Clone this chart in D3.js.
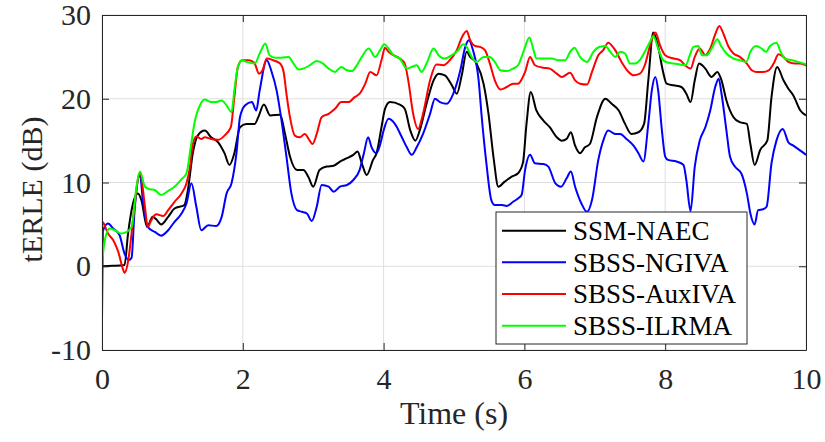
<!DOCTYPE html>
<html><head><meta charset="utf-8">
<script src="https://cdn.jsdelivr.net/npm/d3@7"></script>
<style>
html,body{margin:0;padding:0;background:#fff;}
svg{display:block;}
</style></head>
<body>
<svg id="chart" width="825" height="442" font-family="'Liberation Serif', 'Times New Roman', serif"></svg>
<script>
// ---- data ----
const xTicks = [0, 2, 4, 6, 8, 10];
const yTicks = [-10, 0, 10, 20, 30];
const seriesNames = ["SSM-NAEC", "SBSS-NGIVA", "SBSS-AuxIVA", "SBSS-ILRMA"];
const seriesColors = ["#000000", "#0000ff", "#ff0000", "#00ff00"];

const ssmNaec = [[0,0.0],[0.15,0.05],[0.32,0.15],[0.37,3.9],[0.44,7.5],[0.51,8.7],[0.56,7.9],[0.64,4.7],[0.72,5.9],[0.77,5.6],[0.84,5.0],[0.94,5.9],[1.03,6.9],[1.17,7.3],[1.22,9.1],[1.29,13.5],[1.36,15.6],[1.46,16.2],[1.55,15.4],[1.65,14.8],[1.74,13.5],[1.81,12.1],[1.88,13.5],[1.96,16.6],[2.05,17.0],[2.17,17.0],[2.22,17.8],[2.30,19.3],[2.39,18.0],[2.53,18.1],[2.60,15.8],[2.67,13.1],[2.77,11.5],[2.86,11.5],[2.93,10.7],[3.0,9.5],[3.09,11.5],[3.19,11.9],[3.29,12.0],[3.38,12.5],[3.48,12.9],[3.57,13.3],[3.63,13.7],[3.69,12.3],[3.76,10.9],[3.85,12.7],[3.90,13.5],[3.97,16.6],[4.02,18.8],[4.09,19.6],[4.23,19.3],[4.30,18.8],[4.38,16.2],[4.45,15.0],[4.52,16.4],[4.61,19.4],[4.71,22.2],[4.78,23.0],[4.87,22.8],[4.97,21.6],[5.04,20.6],[5.11,22.8],[5.18,25.6],[5.23,25.0],[5.32,24.2],[5.42,21.8],[5.49,18.2],[5.56,13.1],[5.63,9.5],[5.72,10.1],[5.82,10.7],[5.91,11.1],[5.98,12.4],[6.03,17.0],[6.09,20.8],[6.17,18.6],[6.27,17.4],[6.36,16.6],[6.46,15.4],[6.53,15.0],[6.60,15.2],[6.66,16.0],[6.72,14.4],[6.79,13.5],[6.86,14.2],[6.93,14.6],[7.03,17.8],[7.15,20.0],[7.24,19.4],[7.34,18.6],[7.43,17.0],[7.52,15.8],[7.62,16.0],[7.70,17.0],[7.76,22.2],[7.83,27.9],[7.90,26.2],[7.97,23.2],[8.02,21.8],[8.12,21.6],[8.23,21.4],[8.30,20.6],[8.36,19.6],[8.42,22.2],[8.48,24.2],[8.57,23.6],[8.66,22.6],[8.74,23.2],[8.80,22.2],[8.87,19.8],[8.97,17.8],[9.06,17.2],[9.16,17.0],[9.21,14.6],[9.27,12.1],[9.35,13.9],[9.45,15.0],[9.51,20.2],[9.59,23.8],[9.68,22.2],[9.75,21.2],[9.82,20.4],[9.92,18.6],[10.0,18.0]];

const sbssNgiva = [[0,-6.5],[0.012,4.2],[0.085,5.1],[0.16,4.5],[0.25,3.7],[0.32,1.5],[0.38,0.75],[0.42,1.0],[0.46,6.3],[0.54,10.9],[0.58,7.9],[0.65,4.7],[0.75,4.1],[0.84,3.65],[0.94,4.3],[1.03,5.3],[1.13,6.3],[1.20,7.5],[1.27,9.9],[1.34,7.1],[1.41,4.3],[1.51,4.9],[1.62,4.8],[1.70,5.9],[1.77,8.7],[1.84,9.9],[1.91,13.5],[1.96,17.8],[2.03,19.2],[2.13,19.6],[2.19,18.6],[2.24,21.0],[2.34,24.6],[2.41,23.2],[2.48,21.0],[2.55,17.4],[2.62,13.1],[2.69,8.7],[2.77,6.7],[2.84,6.5],[2.91,6.3],[2.98,5.4],[3.05,7.1],[3.12,9.7],[3.22,9.5],[3.29,8.9],[3.38,9.5],[3.48,9.7],[3.57,10.3],[3.66,11.5],[3.72,13.5],[3.78,15.4],[3.83,14.2],[3.90,13.5],[3.95,14.5],[4.0,16.2],[4.07,17.6],[4.16,17.0],[4.26,15.4],[4.33,14.2],[4.40,13.3],[4.47,14.2],[4.56,15.8],[4.66,18.2],[4.73,20.0],[4.80,19.6],[4.90,19.4],[4.99,20.6],[5.09,23.4],[5.16,26.2],[5.21,27.0],[5.27,25.8],[5.35,22.2],[5.39,18.2],[5.46,12.3],[5.53,7.9],[5.58,7.3],[5.68,7.3],[5.75,7.2],[5.84,7.7],[5.91,8.1],[5.96,8.5],[6.01,11.5],[6.08,13.3],[6.15,12.3],[6.27,12.2],[6.34,11.9],[6.44,9.9],[6.52,9.5],[6.60,10.5],[6.66,11.3],[6.72,9.5],[6.81,7.5],[6.89,6.5],[6.96,7.9],[7.05,12.7],[7.12,15.0],[7.19,16.2],[7.29,15.8],[7.36,15.8],[7.45,15.2],[7.55,14.4],[7.62,13.5],[7.69,12.5],[7.76,17.0],[7.81,21.0],[7.86,22.6],[7.90,21.0],[7.95,16.5],[8.0,13.1],[8.04,12.7],[8.16,12.5],[8.26,12.1],[8.30,10.3],[8.36,6.6],[8.42,11.9],[8.49,15.0],[8.57,16.6],[8.64,18.6],[8.71,21.4],[8.76,22.4],[8.80,20.6],[8.87,16.2],[8.92,13.1],[8.99,11.9],[9.08,11.1],[9.16,8.7],[9.21,6.3],[9.27,5.0],[9.32,6.7],[9.39,6.8],[9.44,7.1],[9.51,12.3],[9.58,15.0],[9.67,16.4],[9.75,14.8],[9.82,14.4],[9.92,13.8],[10.0,13.3]];

const sbssAuxiva = [[0,2.5],[0.005,5.3],[0.085,3.9],[0.16,3.1],[0.23,1.75],[0.30,-0.4],[0.32,-0.8],[0.37,0.55],[0.42,3.9],[0.46,7.1],[0.54,11.2],[0.61,7.1],[0.65,4.7],[0.70,5.5],[0.77,6.2],[0.87,6.0],[0.94,6.7],[1.03,7.7],[1.13,8.7],[1.20,9.9],[1.25,11.9],[1.29,14.6],[1.34,15.5],[1.41,15.2],[1.46,15.4],[1.55,15.2],[1.65,15.1],[1.74,15.6],[1.83,16.6],[1.88,20.2],[1.93,23.8],[1.99,24.6],[2.08,24.6],[2.13,24.5],[2.17,24.2],[2.23,23.0],[2.28,23.4],[2.34,24.8],[2.43,24.6],[2.53,24.2],[2.58,23.2],[2.62,20.6],[2.67,17.8],[2.74,15.6],[2.81,15.4],[2.88,15.8],[2.95,15.0],[2.99,14.6],[3.05,15.8],[3.12,17.8],[3.22,18.2],[3.31,18.8],[3.40,19.6],[3.50,19.6],[3.59,20.2],[3.66,20.6],[3.74,21.8],[3.81,23.2],[3.90,22.8],[3.97,24.6],[4.02,26.1],[4.07,25.6],[4.14,25.2],[4.23,24.8],[4.30,24.2],[4.35,22.2],[4.42,18.2],[4.49,16.4],[4.56,18.2],[4.66,22.2],[4.75,24.1],[4.85,24.0],[4.94,24.6],[5.04,25.8],[5.11,27.3],[5.18,28.1],[5.23,27.0],[5.30,26.3],[5.37,26.2],[5.44,25.8],[5.51,24.2],[5.58,22.2],[5.66,21.1],[5.75,21.4],[5.84,21.8],[5.91,21.8],[5.96,22.3],[6.01,23.2],[6.08,25.0],[6.15,24.0],[6.27,23.7],[6.36,23.6],[6.46,23.0],[6.53,22.6],[6.65,23.1],[6.72,22.2],[6.79,21.8],[6.89,21.7],[6.96,23.2],[7.05,25.2],[7.12,25.8],[7.19,26.7],[7.29,25.8],[7.38,24.4],[7.48,23.2],[7.55,22.8],[7.64,23.0],[7.71,24.0],[7.79,26.5],[7.86,27.9],[7.93,26.3],[8.0,25.2],[8.12,24.8],[8.21,24.6],[8.28,24.0],[8.36,23.6],[8.42,25.0],[8.49,26.0],[8.57,25.2],[8.64,26.0],[8.71,27.7],[8.77,28.7],[8.83,27.7],[8.90,26.2],[8.97,25.4],[9.06,25.0],[9.16,24.2],[9.23,23.4],[9.30,23.2],[9.39,23.2],[9.47,23.4],[9.54,24.2],[9.61,25.3],[9.68,25.0],[9.75,24.4],[9.84,24.2],[9.92,24.2],[10.0,24.0]];

const sbssIlrma = [[0,0.4],[0.04,3.1],[0.11,4.5],[0.18,4.3],[0.27,3.9],[0.35,4.1],[0.42,4.7],[0.49,9.5],[0.54,11.3],[0.61,9.5],[0.68,9.2],[0.75,9.1],[0.84,8.5],[0.94,9.0],[1.03,9.5],[1.13,10.4],[1.20,11.1],[1.26,14.2],[1.32,17.4],[1.39,19.2],[1.46,19.9],[1.55,19.6],[1.62,19.6],[1.70,19.8],[1.77,19.2],[1.84,18.4],[1.88,21.0],[1.93,23.8],[1.99,24.6],[2.05,24.4],[2.17,24.2],[2.24,25.4],[2.32,26.6],[2.38,25.2],[2.46,24.9],[2.55,24.9],[2.65,25.0],[2.72,24.2],[2.79,23.5],[2.86,23.6],[2.95,24.0],[3.05,24.5],[3.14,24.2],[3.22,23.6],[3.31,23.2],[3.40,23.8],[3.48,23.4],[3.55,23.3],[3.62,24.0],[3.69,25.0],[3.79,26.0],[3.88,25.0],[3.95,25.8],[4.01,26.5],[4.07,26.0],[4.14,25.2],[4.23,24.8],[4.33,23.6],[4.40,23.8],[4.47,24.0],[4.54,23.2],[4.61,24.2],[4.71,26.0],[4.78,25.2],[4.87,24.8],[4.97,25.2],[5.06,25.8],[5.13,26.5],[5.18,26.2],[5.25,25.0],[5.32,24.4],[5.42,25.0],[5.51,25.0],[5.58,24.4],[5.66,23.4],[5.75,23.3],[5.84,23.6],[5.91,24.0],[5.96,25.0],[6.01,26.2],[6.07,27.3],[6.13,25.8],[6.17,24.8],[6.27,24.8],[6.39,24.8],[6.48,24.6],[6.58,24.6],[6.65,25.6],[6.71,26.1],[6.79,25.0],[6.89,24.4],[6.98,25.6],[7.07,26.2],[7.15,26.3],[7.22,25.6],[7.29,25.0],[7.36,25.6],[7.43,25.4],[7.50,24.2],[7.57,24.2],[7.64,24.6],[7.71,25.6],[7.79,26.9],[7.83,27.5],[7.90,26.0],[7.97,24.6],[8.05,24.3],[8.12,24.2],[8.21,24.1],[8.29,24.0],[8.35,25.2],[8.40,26.2],[8.47,26.3],[8.52,25.2],[8.59,25.2],[8.66,26.0],[8.74,27.1],[8.80,26.2],[8.87,25.4],[8.97,24.8],[9.06,24.6],[9.15,24.4],[9.21,25.6],[9.29,26.3],[9.37,26.0],[9.43,25.6],[9.49,26.3],[9.58,26.7],[9.64,25.6],[9.70,24.8],[9.80,24.6],[9.89,24.4],[10.0,24.1]];

const seriesData = [ssmNaec, sbssNgiva, sbssAuxiva, sbssIlrma];

// ---- layout ----
const FONT = "'Liberation Serif', 'Times New Roman', serif";
const L = 102, R = 806, T = 15, B = 350;
const svg = d3.select("#chart");
const x = d3.scaleLinear().domain([0, 10]).range([L, R]);
const y = d3.scaleLinear().domain([-10, 30]).range([B, T]);
const axisColor = "#262626";

// grid
const grid = svg.append("g");
grid.selectAll("line.gx").data(xTicks).join("line")
  .attr("x1", d => x(d)).attr("x2", d => x(d)).attr("y1", T).attr("y2", B)
  .attr("stroke", "#dfdfdf").attr("stroke-width", 1);
grid.selectAll("line.gy").data(yTicks).join("line")
  .attr("x1", L).attr("x2", R).attr("y1", d => y(d)).attr("y2", d => y(d))
  .attr("stroke", "#dfdfdf").attr("stroke-width", 1);

// curves
svg.append("clipPath").attr("id", "clip").append("rect")
  .attr("x", L).attr("y", T).attr("width", R - L).attr("height", B - T);
const line = d3.line().x(d => x(d[0])).y(d => y(d[1])).curve(d3.curveMonotoneX);
const curves = svg.append("g").attr("clip-path", "url(#clip)");
seriesData.forEach((s, i) => {
  curves.append("path").datum(s).attr("d", line)
    .attr("fill", "none").attr("stroke", seriesColors[i])
    .attr("stroke-width", 2).attr("stroke-linejoin", "round");
});

// axes
const fmt = d => String(d);
function styleAxis(g) {
  g.attr("font-family", FONT).attr("font-size", 30);
  g.select(".domain").attr("stroke", axisColor).attr("stroke-width", 1);
  g.selectAll(".tick line").attr("stroke", axisColor).attr("stroke-width", 1);
  g.selectAll(".tick text").attr("fill", axisColor);
}
svg.append("g").attr("transform", `translate(0,${B})`)
  .call(d3.axisBottom(x).tickValues(xTicks).tickSize(-7).tickSizeOuter(0).tickPadding(18).tickFormat(fmt))
  .call(styleAxis);
svg.append("g").attr("transform", `translate(${L},0)`)
  .call(d3.axisLeft(y).tickValues(yTicks).tickSize(-7).tickSizeOuter(0).tickPadding(11).tickFormat(fmt))
  .call(styleAxis);
svg.append("g").attr("transform", `translate(0,${T})`)
  .call(d3.axisTop(x).tickValues(xTicks).tickSize(-7).tickSizeOuter(0).tickFormat(""))
  .call(styleAxis);
svg.append("g").attr("transform", `translate(${R},0)`)
  .call(d3.axisRight(y).tickValues(yTicks).tickSize(-7).tickSizeOuter(0).tickFormat(""))
  .call(styleAxis);

// axis labels
svg.append("text").attr("x", (L + R) / 2).attr("y", 424)
  .attr("text-anchor", "middle").attr("font-family", FONT).attr("font-size", 32)
  .attr("fill", axisColor).text("Time (s)");
svg.append("text").attr("transform", `translate(42,${(T + B) / 2 + 7}) rotate(-90)`)
  .attr("text-anchor", "middle").attr("font-family", FONT).attr("font-size", 30)
  .attr("fill", axisColor).text("tERLE (dB)");

// legend
const lg = svg.append("g");
lg.append("rect").attr("x", 496).attr("y", 212).attr("width", 251).attr("height", 132)
  .attr("fill", "#fff").attr("stroke", axisColor).attr("stroke-width", 1);
seriesNames.forEach((n, i) => {
  const cy = 230.7 + i * 31.67;
  lg.append("line").attr("x1", 502).attr("x2", 566).attr("y1", cy).attr("y2", cy)
    .attr("stroke", seriesColors[i]).attr("stroke-width", 2);
  lg.append("text").attr("x", 573).attr("y", cy).attr("dy", "0.35em")
    .attr("font-family", FONT).attr("font-size", 27).attr("fill", "#000").text(n);
});
</script>
</body></html>
